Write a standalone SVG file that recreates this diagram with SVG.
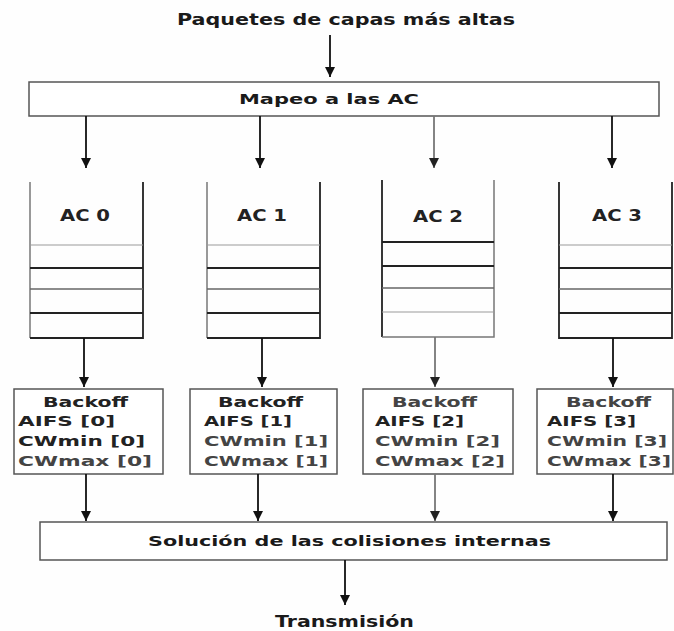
<svg xmlns="http://www.w3.org/2000/svg" width="674" height="631" viewBox="0 0 674 631">
  <defs>
    <marker id="arrow" viewBox="0 0 10 10" refX="10" refY="5" markerWidth="10" markerHeight="10" markerUnits="userSpaceOnUse" orient="auto">
      <path d="M0,0 L10,5 L0,10 Z" fill="#111"/>
    </marker>
    <marker id="arrowGray" viewBox="0 0 10 10" refX="10" refY="5" markerWidth="10" markerHeight="10" markerUnits="userSpaceOnUse" orient="auto">
      <path d="M0,0 L10,5 L0,10 Z" fill="#222"/>
    </marker>
  </defs>
  <style>
    text { font-family: "DejaVu Sans", "Liberation Sans", sans-serif; font-weight: bold; fill: #1a1a1a; }
    .title { font-size: 16px; }
    .boxtext { font-size: 14.5px; }
    .ac { font-size: 16px; fill: #222; }
    .bk { font-size: 14px; fill: #222; }
    .bk2 { font-size: 14px; fill: #444; }
    .box { fill: #fff; stroke: #555; stroke-width: 1.5; }
    .wall { stroke: #222; stroke-width: 1.8; fill: none; }
    .wallLight { stroke: #777; stroke-width: 1.5; fill: none; }
    .slotDark { stroke: #222; stroke-width: 1.8; }
    .slotMid { stroke: #666; stroke-width: 1.4; }
    .slotLight { stroke: #999; stroke-width: 1.2; }
    .conn { stroke: #111; stroke-width: 1.8; fill: none; marker-end: url(#arrow); }
    .connGray { stroke: #777; stroke-width: 1.8; fill: none; marker-end: url(#arrowGray); }
  </style>

  <rect x="0" y="0" width="674" height="631" fill="#fefefe"/>

  <!-- source and sink labels -->
  <g id="upper-layers">
    <text class="title" x="177" y="25" textLength="338" lengthAdjust="spacingAndGlyphs">Paquetes de capas más altas</text>
  </g>
  <g id="transmission">
    <text class="title" x="275" y="627" textLength="139" lengthAdjust="spacingAndGlyphs">Transmisión</text>
  </g>

  <!-- mapping stage -->
  <g id="mapping">
    <rect class="box" x="29" y="82" width="630" height="34"/>
    <text class="boxtext" x="239" y="104" textLength="180" lengthAdjust="spacingAndGlyphs">Mapeo a las AC</text>
  </g>

  <!-- access category queues -->
  <g id="queue-ac0">
    <path class="wallLight" d="M30,182 V338"/>
    <path class="wall" d="M143,182 V338 H30"/>
    <line class="slotLight" x1="30" y1="245" x2="143" y2="245"/>
    <line class="slotDark" x1="30" y1="268" x2="143" y2="268"/>
    <line class="slotMid" x1="30" y1="289" x2="143" y2="289"/>
    <line class="slotDark" x1="30" y1="313" x2="143" y2="313"/>
    <text class="ac" x="60" y="221" textLength="50" lengthAdjust="spacingAndGlyphs">AC 0</text>
  </g>
  <g id="queue-ac1">
    <path class="wallLight" d="M207,182 V338"/>
    <path class="wall" d="M320,182 V338 H207"/>
    <line class="slotLight" x1="207" y1="245" x2="320" y2="245"/>
    <line class="slotDark" x1="207" y1="268" x2="320" y2="268"/>
    <line class="slotMid" x1="207" y1="289" x2="320" y2="289"/>
    <line class="slotDark" x1="207" y1="313" x2="320" y2="313"/>
    <text class="ac" x="237" y="221" textLength="50" lengthAdjust="spacingAndGlyphs">AC 1</text>
  </g>
  <g id="queue-ac2">
    <path class="wall" d="M382,180 V337"/>
    <path class="wallLight" d="M494,180 V337 H382"/>
    <line class="slotDark" x1="382" y1="242" x2="494" y2="242"/>
    <line class="slotDark" x1="382" y1="266" x2="494" y2="266"/>
    <line class="slotMid" x1="382" y1="288" x2="494" y2="288"/>
    <line class="slotLight" x1="382" y1="312" x2="494" y2="312"/>
    <text class="ac" x="413" y="222" textLength="50" lengthAdjust="spacingAndGlyphs">AC 2</text>
  </g>
  <g id="queue-ac3">
    <path class="wall" d="M559,182 V338 H672 V182"/>
    <line class="slotLight" x1="559" y1="245" x2="672" y2="245"/>
    <line class="slotDark" x1="559" y1="268" x2="672" y2="268"/>
    <line class="slotMid" x1="559" y1="289" x2="672" y2="289"/>
    <line class="slotDark" x1="559" y1="313" x2="672" y2="313"/>
    <text class="ac" x="592" y="221" textLength="50" lengthAdjust="spacingAndGlyphs">AC 3</text>
  </g>

  <!-- backoff entities -->
  <g id="backoff-ac0">
    <rect class="box" x="14" y="389" width="149" height="85"/>
    <text class="bk" x="43" y="407" textLength="85" lengthAdjust="spacingAndGlyphs">Backoff</text>
    <text class="bk" x="18" y="426" textLength="97" lengthAdjust="spacingAndGlyphs">AIFS [0]</text>
    <text class="bk" x="18" y="446" textLength="127" lengthAdjust="spacingAndGlyphs">CWmin [0]</text>
    <text class="bk2" x="18" y="466" textLength="134" lengthAdjust="spacingAndGlyphs">CWmax [0]</text>
  </g>
  <g id="backoff-ac1">
    <rect class="box" x="190" y="389" width="147" height="85"/>
    <text class="bk" x="218" y="407" textLength="85" lengthAdjust="spacingAndGlyphs">Backoff</text>
    <text class="bk" x="204" y="426" textLength="88" lengthAdjust="spacingAndGlyphs">AIFS [1]</text>
    <text class="bk2" x="204" y="446" textLength="124" lengthAdjust="spacingAndGlyphs">CWmin [1]</text>
    <text class="bk2" x="204" y="466" textLength="124" lengthAdjust="spacingAndGlyphs">CWmax [1]</text>
  </g>
  <g id="backoff-ac2">
    <rect class="box" x="363" y="389" width="150" height="85"/>
    <text class="bk2" x="392" y="407" textLength="85" lengthAdjust="spacingAndGlyphs">Backoff</text>
    <text class="bk" x="375" y="426" textLength="89" lengthAdjust="spacingAndGlyphs">AIFS [2]</text>
    <text class="bk2" x="375" y="446" textLength="125" lengthAdjust="spacingAndGlyphs">CWmin [2]</text>
    <text class="bk2" x="375" y="466" textLength="130" lengthAdjust="spacingAndGlyphs">CWmax [2]</text>
  </g>
  <g id="backoff-ac3">
    <rect class="box" x="537" y="389" width="136" height="85"/>
    <text class="bk2" x="566" y="407" textLength="85" lengthAdjust="spacingAndGlyphs">Backoff</text>
    <text class="bk" x="547" y="426" textLength="89" lengthAdjust="spacingAndGlyphs">AIFS [3]</text>
    <text class="bk2" x="547" y="446" textLength="120" lengthAdjust="spacingAndGlyphs">CWmin [3]</text>
    <text class="bk2" x="547" y="466" textLength="124" lengthAdjust="spacingAndGlyphs">CWmax [3]</text>
  </g>

  <!-- internal collision resolution -->
  <g id="collision-resolution">
    <rect class="box" x="40" y="522" width="627" height="38"/>
    <text class="boxtext" x="148" y="546" textLength="403" lengthAdjust="spacingAndGlyphs">Solución de las colisiones internas</text>
  </g>

  <!-- connectors -->
  <g id="connectors">
    <line class="conn" x1="330" y1="35" x2="330" y2="77"/>

    <line class="conn" x1="86" y1="116" x2="86" y2="168"/>
    <line class="conn" x1="260" y1="116" x2="260" y2="168"/>
    <line class="connGray" x1="434" y1="116" x2="434" y2="168"/>
    <line class="conn" x1="612" y1="116" x2="612" y2="168"/>

    <line class="conn" x1="84" y1="338" x2="84" y2="387"/>
    <line class="conn" x1="262" y1="338" x2="262" y2="387"/>
    <line class="connGray" x1="435" y1="337" x2="435" y2="387"/>
    <line class="conn" x1="613" y1="338" x2="613" y2="387"/>

    <line class="conn" x1="86" y1="474" x2="86" y2="521"/>
    <line class="conn" x1="258" y1="474" x2="258" y2="521"/>
    <line class="connGray" x1="435" y1="474" x2="435" y2="521"/>
    <line class="conn" x1="613" y1="474" x2="613" y2="521"/>

    <line class="conn" x1="345" y1="560" x2="345" y2="605"/>
  </g>
</svg>
